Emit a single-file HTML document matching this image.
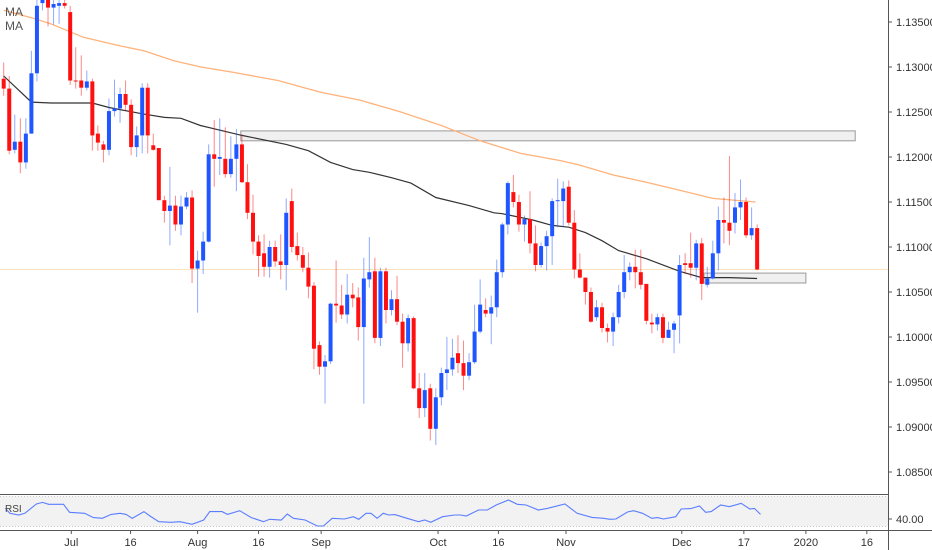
<!DOCTYPE html>
<html><head><meta charset="utf-8"><style>
html,body{margin:0;padding:0;background:#fff;}
svg{display:block;font-family:"Liberation Sans",sans-serif;}
</style></head><body>
<svg id="chart" width="932" height="550" viewBox="0 0 932 550" xmlns="http://www.w3.org/2000/svg">
<defs><clipPath id="plotclip"><rect x="0" y="0" width="888" height="493"/></clipPath></defs>
<rect x="0" y="0" width="932" height="550" fill="#fff"/>
<g id="grid"></g>
<g id="zones" clip-path="url(#plotclip)"></g>
<g id="mas" clip-path="url(#plotclip)"></g>
<g id="candles" clip-path="url(#plotclip)"></g>
<g id="rsi"></g>
<g id="axes"></g>
<text x="5" y="16" font-size="12" fill="#555">MA</text>
<text x="5" y="30" font-size="12" fill="#555">MA</text>
</svg>
<script>
const opens=[1.1287,1.1276,1.1208,1.1217,1.1194,1.1226,1.1293,1.1371,1.1381,1.1366,1.1368,1.1371,1.1361,1.1285,1.1285,1.1277,1.1284,1.1226,1.1214,1.1208,1.1251,1.1254,1.1270,1.1258,1.1211,1.1224,1.1277,1.1213,1.1210,1.1152,1.1140,1.1146,1.1125,1.1145,1.1155,1.1076,1.1085,1.1106,1.1203,1.1198,1.1198,1.1181,1.1198,1.1214,1.1172,1.1138,1.1106,1.1093,1.1078,1.1100,1.1084,1.1080,1.1151,1.1101,1.1091,1.1077,1.1057,1.0991,1.0967,1.0973,1.1037,1.1035,1.1025,1.1047,1.1044,1.1011,1.1064,1.1073,1.0999,1.1073,1.1030,1.1042,1.1017,1.0993,1.1021,1.0943,1.0921,1.0943,1.0898,1.0933,1.0960,1.0964,1.0982,1.0971,1.0957,1.0972,1.1006,1.1030,1.1026,1.1033,1.1072,1.1125,1.1161,1.1150,1.1125,1.1131,1.1104,1.1080,1.1101,1.1112,1.1151,1.1151,1.1167,1.1127,1.1075,1.1066,1.1050,1.1022,1.1033,1.1010,1.1006,1.1022,1.1050,1.1072,1.1078,1.1072,1.1059,1.1016,1.1014,1.1022,1.0999,1.1008,1.1024,1.1082,1.1082,1.1077,1.1104,1.1058,1.1065,1.1093,1.1130,1.1127,1.1127,1.1144,1.1150,1.1113,1.1121];
const highs=[1.1305,1.1290,1.1247,1.1243,1.1243,1.1318,1.1380,1.1391,1.1391,1.1385,1.1380,1.1380,1.1368,1.1322,1.1313,1.1296,1.1287,1.1235,1.1218,1.1265,1.1286,1.1277,1.1285,1.1264,1.1234,1.1282,1.1282,1.1226,1.1210,1.1157,1.1189,1.1157,1.1157,1.1161,1.1163,1.1096,1.1117,1.1214,1.1241,1.1243,1.1233,1.1223,1.1231,1.1225,1.1192,1.1158,1.1113,1.1114,1.1107,1.1107,1.1114,1.1154,1.1165,1.1116,1.1100,1.1094,1.1061,1.0995,1.0980,1.1038,1.1085,1.1058,1.1070,1.1060,1.1055,1.1088,1.1111,1.1088,1.1077,1.1077,1.1052,1.1068,1.1026,1.1025,1.1023,1.0960,1.0960,1.0948,1.0943,1.0966,1.1000,1.0998,1.1002,1.0996,1.0982,1.1036,1.1064,1.1043,1.1046,1.1086,1.1127,1.1173,1.1180,1.1158,1.1135,1.1162,1.1124,1.1105,1.1118,1.1154,1.1176,1.1173,1.1174,1.1141,1.1093,1.1066,1.1055,1.1041,1.1038,1.1015,1.1027,1.1058,1.1091,1.1083,1.1097,1.1097,1.1059,1.1026,1.1026,1.1026,1.1017,1.1018,1.1091,1.1093,1.1116,1.1108,1.1110,1.1078,1.1107,1.1145,1.1155,1.1201,1.1160,1.1175,1.1155,1.1144,1.1125];
const lows=[1.1268,1.1203,1.1204,1.1182,1.1187,1.1226,1.1284,1.1363,1.1345,1.1347,1.1348,1.1365,1.1280,1.1276,1.1268,1.1274,1.1207,1.1207,1.1194,1.1202,1.1245,1.1238,1.1252,1.1202,1.1200,1.1204,1.1204,1.1207,1.1152,1.1127,1.1102,1.1118,1.1113,1.1142,1.1060,1.1027,1.1070,1.1105,1.1167,1.1180,1.1177,1.1177,1.1162,1.1171,1.1131,1.1092,1.1067,1.1067,1.1066,1.1078,1.1064,1.1052,1.1094,1.1085,1.1072,1.1043,1.0964,1.0958,1.0926,1.0970,1.1016,1.1020,1.1015,1.1033,1.0996,1.0926,1.1055,1.0993,1.0990,1.1015,1.1024,1.1013,1.0966,1.0984,1.0942,1.0910,1.0911,1.0885,1.0880,1.0924,1.0941,1.0957,1.0960,1.0941,1.0952,1.0970,1.1004,1.1022,1.0992,1.1022,1.1066,1.1114,1.1144,1.1117,1.1106,1.1093,1.1073,1.1077,1.1074,1.1080,1.1122,1.1122,1.1124,1.1065,1.1065,1.1036,1.1016,1.1018,1.1005,1.0994,1.0990,1.1015,1.1043,1.1063,1.1054,1.1053,1.1014,1.1004,1.1007,1.0993,1.0999,1.0982,1.0993,1.1070,1.1066,1.1063,1.1041,1.1055,1.1064,1.1074,1.1104,1.1102,1.1115,1.1130,1.1110,1.1108,1.1074];
const closes=[1.1276,1.1207,1.1217,1.1194,1.1226,1.1293,1.1368,1.1383,1.1366,1.1370,1.1371,1.1368,1.1285,1.1284,1.1277,1.1284,1.1224,1.1216,1.1208,1.1251,1.1254,1.1270,1.1258,1.1211,1.1224,1.1277,1.1224,1.1208,1.1152,1.1140,1.1146,1.1125,1.1145,1.1155,1.1076,1.1085,1.1106,1.1203,1.1198,1.1200,1.1181,1.1198,1.1214,1.1172,1.1138,1.1106,1.1090,1.1078,1.1100,1.1084,1.1080,1.1138,1.1100,1.1091,1.1077,1.1056,1.0987,1.0967,1.0973,1.1037,1.1035,1.1025,1.1047,1.1043,1.1011,1.1065,1.1072,1.0999,1.1073,1.1030,1.1042,1.1017,1.0993,1.1021,1.0943,1.0921,1.0941,1.0898,1.0933,1.0960,1.0964,1.0977,1.0971,1.0957,1.0972,1.1006,1.1036,1.1026,1.1033,1.1072,1.1125,1.1171,1.1150,1.1125,1.1131,1.1104,1.1080,1.1101,1.1112,1.1151,1.1152,1.1165,1.1127,1.1075,1.1066,1.1050,1.1017,1.1033,1.1010,1.1006,1.1022,1.1050,1.1072,1.1078,1.1072,1.1058,1.1018,1.1014,1.1022,1.0999,1.1008,1.1015,1.1080,1.1080,1.1077,1.1104,1.1059,1.1065,1.1093,1.1130,1.1127,1.1118,1.1144,1.1150,1.1113,1.1121,1.1075];
const maSlowIdx=[0,5,8.5,16,19,25,29,32,35.5,43,51,55,59,63,66,70,73.5,78,84,88.5,90,95.5,99,102,105,108,111,116,122,126,131,136];
const maSlowVal=[1.1290,1.1261,1.1260,1.1260,1.1255,1.1248,1.1244,1.1243,1.1235,1.1224,1.1214,1.1207,1.1194,1.1186,1.1183,1.1177,1.1171,1.1155,1.1146,1.1138,1.1137,1.1130,1.1124,1.1122,1.1116,1.1107,1.1096,1.1087,1.1073,1.1066,1.1066,1.1065];
const ma200Idx=[0,5.4,8.5,14.4,20.6,25.3,30.7,35.6,41.5,49.5,57.2,64.4,71.7,79,86,93.3,100.5,104,110,116,122,128,135.7];
const ma200Val=[1.1363,1.1354,1.1348,1.1333,1.1324,1.1318,1.1307,1.1300,1.1294,1.1285,1.1272,1.1263,1.1250,1.1235,1.1218,1.1204,1.1196,1.1191,1.1180,1.1172,1.1163,1.1154,1.1150];
const rsiIdx=[0.3,1.1,2.7,3.8,5.9,7,8.1,10.8,11.9,14.6,16.2,17.8,19.4,21,22.1,23.2,25.3,26.4,28,30.2,31.8,34,36.1,37.2,39.4,40.4,42.6,44.7,46.9,48,50.1,51.2,52.3,54.4,56.6,57.7,59.3,61.5,63.1,64.1,65.4,66.3,67.4,68.5,69.5,70.6,72.8,74.9,76,77.1,79.2,81.4,82.5,83.5,85.7,87.3,88.9,91.1,92.7,94.3,96.5,98.1,101.3,103.5,106.2,108.3,109.4,110.5,112.6,113.7,115.3,117,118,119.1,121.3,122.3,124,125.6,126.7,127.7,129.4,131,133.1,134.7,135.5,136.6];
const rsiVal=[54.2,47.6,45.3,47.6,60,62.2,59.6,59.6,48.9,47.6,41.8,40.9,46.2,47.6,46.2,40.9,49.8,44,36.4,35.6,36.4,32.9,38.7,49.8,49.8,46.2,51.1,41.8,36.4,39.6,38.7,46.7,40.9,38.7,30.7,30.7,40.9,40,43.1,39.6,47.6,47.6,40.9,47.6,45.3,45.8,40.9,36.4,38.7,35.6,43.1,45.3,45.3,44,52,52,58.7,65.3,59.6,58.7,52,54.2,60,47.6,42.2,40.9,39.6,40,49.3,51.1,47.6,40.9,41.8,40,43.1,53.3,53.8,57.3,48.9,49.8,58.7,56.4,60.9,53.3,54.2,46.2];
const priceTicks=[1.135,1.13,1.125,1.12,1.115,1.11,1.105,1.10,1.095,1.09,1.085];
const timeLabels=["Jul","16","Aug","16","Sep","Oct","16","Nov","Dec","17","2020","16"];
const timeIdx=[12.2,22.9,35,46,57.3,78.4,89.3,101.5,122.4,133.6,144.8,155.8];
const resistZone=[1.1229,1.1218];const resistIdx=[42.8,153.7];
const supportZone=[1.1071,1.1060];const supportIdx=[126.4,144.8];

const NS="http://www.w3.org/2000/svg";
const xI=i=>3.7+i*5.54;
const yP=p=>157+(1.12-p)*9000;
const yR=r=>519-(r-40)*0.75;
function mk(tag,attrs,parent){const e=document.createElementNS(NS,tag);for(const k in attrs)e.setAttribute(k,attrs[k]);parent.appendChild(e);return e;}
const G=id=>document.getElementById(id);

// last price line
const lp=mk('line',{x1:0,x2:888,y1:yP(closes[closes.length-1]),y2:yP(closes[closes.length-1]),stroke:'#ffe3b8','stroke-width':1},G('grid'));



// zones
let z=mk('rect',{x:xI(resistIdx[0]),y:yP(resistZone[0]),width:xI(resistIdx[1])-xI(resistIdx[0]),height:yP(resistZone[1])-yP(resistZone[0]),fill:'#f0f0f0',stroke:'#9a9a9a','stroke-width':1},G('zones'));


z=mk('rect',{x:xI(supportIdx[0]),y:yP(supportZone[0]),width:xI(supportIdx[1])-xI(supportIdx[0]),height:yP(supportZone[1])-yP(supportZone[0]),fill:'#f0f0f0',stroke:'#9a9a9a','stroke-width':1},G('zones'));



// MAs
function pts(ix,vals,yf){return ix.map((v,k)=>xI(v).toFixed(1)+','+yf(vals[k]).toFixed(1)).join(' ');}
let m=mk('polyline',{points:pts(ma200Idx,ma200Val,yP),fill:'none',stroke:'#ffb27a','stroke-width':1.3},G('mas'));


m=mk('polyline',{points:pts(maSlowIdx,maSlowVal,yP),fill:'none',stroke:'#333','stroke-width':1.2},G('mas'));



// candles
for(let i=0;i<opens.length;i++){
  const up=closes[i]>=opens[i];
  const col=up?'#1f56ff':'#ff1010';
  const x=xI(i);
  const g=mk('g',{},G('candles'));
  
  
  mk('line',{x1:x,x2:x,y1:yP(highs[i]),y2:yP(lows[i]),stroke:col,'stroke-opacity':0.5,'stroke-width':1},g);
  const t=Math.min(yP(opens[i]),yP(closes[i]));
  const h=Math.max(1,Math.abs(yP(opens[i])-yP(closes[i])));
  mk('rect',{x:x-2,y:t,width:4,height:h,fill:col},g);
}

// RSI panel
const rg=G('rsi');
let r=mk('rect',{x:0,y:yR(70),width:888,height:yR(30)-yR(70),fill:'#f2f2f2'},rg);


mk('line',{x1:0,x2:888,y1:yR(70),y2:yR(70),stroke:'#c8c8c8','stroke-dasharray':'1,2'},rg);
mk('line',{x1:0,x2:888,y1:yR(30),y2:yR(30),stroke:'#c8c8c8','stroke-dasharray':'1,2'},rg);
r=mk('polyline',{points:pts(rsiIdx,rsiVal,yR),fill:'none',stroke:'#5a7dff','stroke-width':1.1},rg);


mk('line',{x1:0,x2:888,y1:494.5,y2:494.5,stroke:'#555','stroke-width':1},rg);
mk('line',{x1:0,x2:932,y1:530.5,y2:530.5,stroke:'#555','stroke-width':1},rg);
r=mk('text',{x:5,y:512,'font-size':10,fill:'#444'},rg);r.textContent='RSI';



// axes
const ax=G('axes');
mk('line',{x1:888.5,x2:888.5,y1:0,y2:550,stroke:'#555','stroke-width':1},ax);
priceTicks.forEach(p=>{
  const y=yP(p);
  mk('line',{x1:888,x2:892,y1:y,y2:y,stroke:'#555'},ax);
  const t=mk('text',{x:896,y:y+4,'font-size':11,fill:'#333'},ax);
  t.textContent=p.toFixed(5);
  
  
});
{const y=yR(40);mk('line',{x1:888,x2:892,y1:y,y2:y,stroke:'#555'},ax);
const t=mk('text',{x:896,y:y+4,'font-size':11,fill:'#333'},ax);t.textContent='40.00';

}
timeLabels.forEach((s,k)=>{
  const x=xI(timeIdx[k]);
  mk('line',{x1:x,x2:x,y1:530,y2:534,stroke:'#555'},ax);
  const t=mk('text',{x:x,y:546,'font-size':11,fill:'#333','text-anchor':'middle'},ax);
  t.textContent=s;
  
  
});
</script>
</body></html>
